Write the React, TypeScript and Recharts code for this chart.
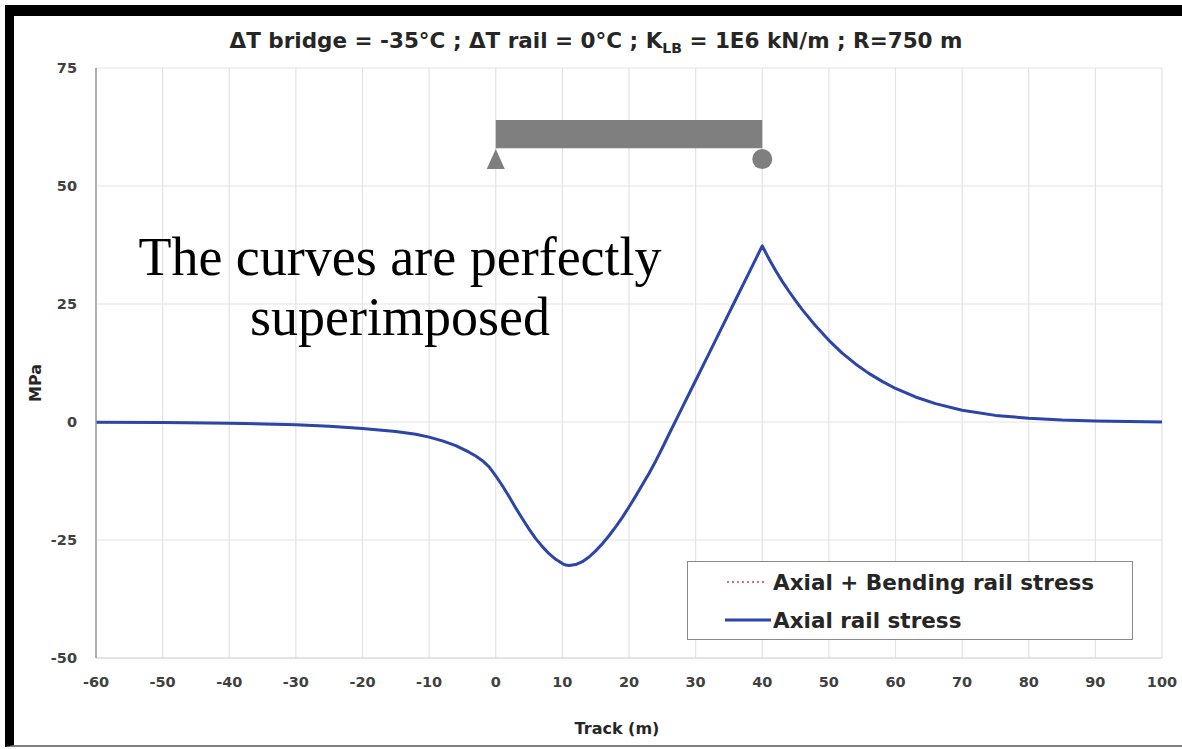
import React from "react";
import {
  LineChart,
  Line,
  XAxis,
  YAxis,
  CartesianGrid,
  Legend,
  ReferenceArea,
  ReferenceDot,
} from "recharts";

// track position (m)
const track = [
  -60, -50, -40, -30, -25, -20, -15, -12, -10, -8, -6, -5, -4, -3, -2, -1, 0, 1,
  2, 3, 4, 5, 6, 7, 8, 9, 10, 10.5, 11, 12, 13, 14, 15, 16, 17, 18, 19, 20, 21,
  22, 23, 24, 25, 26, 28, 30, 32, 34, 36, 38, 40, 41, 42, 43, 44, 45, 46, 48,
  50, 52, 54, 56, 58, 60, 63, 66, 70, 75, 80, 85, 90, 95, 100,
];

// rail stress (MPa)
const axialStress = [
  -0.05, -0.1, -0.25, -0.6, -0.9, -1.4, -2.0, -2.6, -3.2, -4.0, -5.0, -5.7,
  -6.4, -7.2, -8.2, -9.5, -11.4, -13.5, -15.8, -18.2, -20.5, -22.7, -24.7,
  -26.4, -27.9, -29.1, -30.0, -30.3, -30.4, -30.2, -29.6, -28.6, -27.3, -25.8,
  -24.1, -22.2, -20.2, -18.0, -15.7, -13.3, -10.9, -8.3, -5.5, -2.6, 3.1, 8.8,
  14.5, 20.2, 25.9, 31.6, 37.3, 34.6, 32.1, 29.8, 27.7, 25.7, 23.8, 20.4, 17.3,
  14.6, 12.3, 10.3, 8.6, 7.1, 5.3, 3.9, 2.5, 1.4, 0.8, 0.4, 0.2, 0.1, 0.0,
];

const axialBendingStress = [
  -0.05, -0.1, -0.25, -0.6, -0.9, -1.4, -2.0, -2.6, -3.2, -4.0, -5.0, -5.7,
  -6.4, -7.2, -8.2, -9.5, -11.4, -13.5, -15.8, -18.2, -20.5, -22.7, -24.7,
  -26.4, -27.9, -29.1, -30.0, -30.3, -30.4, -30.2, -29.6, -28.6, -27.3, -25.8,
  -24.1, -22.2, -20.2, -18.0, -15.7, -13.3, -10.9, -8.3, -5.5, -2.6, 3.1, 8.8,
  14.5, 20.2, 25.9, 31.6, 37.3, 34.6, 32.1, 29.8, 27.7, 25.7, 23.8, 20.4, 17.3,
  14.6, 12.3, 10.3, 8.6, 7.1, 5.3, 3.9, 2.5, 1.4, 0.8, 0.4, 0.2, 0.1, 0.0,
];

const xTicks = [-60, -50, -40, -30, -20, -10, 0, 10, 20, 30, 40, 50, 60, 70, 80, 90, 100];
const yTicks = [-50, -25, 0, 25, 50, 75];

// bridge sketch, in chart units
const bridgeStart = 0;
const bridgeEnd = 40;
const deckBottom = 58;
const deckTop = 64;
const supportLevel = 55.7;

const data = track.map((x, i) => ({
  x,
  bending: axialBendingStress[i],
  axial: axialStress[i],
}));

const sans = "'DejaVu Sans', sans-serif";
const grey = "#7f7f7f";

const Triangle = (props: any) => {
  const { cx, cy } = props;
  return (
    <polygon
      points={`${cx},${cy - 10} ${cx - 9},${cy + 10} ${cx + 9},${cy + 10}`}
      fill={grey}
    />
  );
};

function StressLegend() {
  const row = { display: "flex", alignItems: "center", height: 38 };
  return (
    <div
      style={{
        width: 446,
        height: 79,
        boxSizing: "border-box",
        border: "1.5px solid #8a8a8a",
        background: "#fff",
        fontFamily: sans,
        fontWeight: 700,
        fontSize: 21.5,
        color: "#262626",
        paddingLeft: 37,
        paddingTop: 1,
      }}
    >
      <div style={row}>
        <svg width={48} height={10}>
          <line x1={2} y1={5} x2={42} y2={5} stroke="#e8677a" strokeWidth={2} strokeDasharray="2 3" />
        </svg>
        <span>Axial + Bending rail stress</span>
      </div>
      <div style={row}>
        <svg width={48} height={10}>
          <line x1={0} y1={5} x2={46} y2={5} stroke="#2b45a8" strokeWidth={3} />
        </svg>
        <span>Axial rail stress</span>
      </div>
    </div>
  );
}

export default function App() {
  return (
    <div
      style={{
        position: "absolute",
        left: 0,
        top: 0,
        width: 1182,
        height: 749,
        background: "#fff",
        overflow: "hidden",
      }}
    >
      <div
        style={{
          position: "absolute",
          left: 5,
          top: 5,
          width: 1190,
          height: 742,
          boxSizing: "border-box",
          borderLeft: "9px solid #000",
          borderTop: "11px solid #000",
          borderBottom: "2px solid #808080",
        }}
      />
      <LineChart
        width={1182}
        height={749}
        data={data}
        margin={{ top: 68, right: 20, left: 36, bottom: 11 }}
        style={{ position: "absolute", left: 0, top: 0 }}
      >
        <CartesianGrid stroke="#e3e3e3" strokeWidth={1.2} />
        <XAxis
          type="number"
          dataKey="x"
          domain={[-60, 100]}
          ticks={xTicks}
          height={80}
          tickLine={false}
          tickMargin={13}
          axisLine={{ stroke: "#d6d6d6" }}
          tick={{ fontSize: 14.5, fontWeight: 700, fill: "#404040", fontFamily: sans }}
        />
        <YAxis
          type="number"
          domain={[-50, 75]}
          ticks={yTicks}
          width={60}
          tickLine={false}
          tickMargin={13}
          axisLine={{ stroke: "#9a9a9a", strokeWidth: 1.5 }}
          tick={{ fontSize: 14.5, fontWeight: 700, fill: "#404040", fontFamily: sans }}
        />
        <ReferenceArea
          x1={bridgeStart}
          x2={bridgeEnd}
          y1={deckBottom}
          y2={deckTop}
          fill={grey}
          fillOpacity={1}
          stroke="none"
        />
        <ReferenceDot x={bridgeStart} y={supportLevel} shape={Triangle} />
        <ReferenceDot x={bridgeEnd} y={supportLevel} r={10} fill={grey} stroke="none" />
        <Legend
          layout="vertical"
          align="center"
          verticalAlign="middle"
          content={() => <StressLegend />}
          wrapperStyle={{ left: 687, top: 561, width: 446, height: 79 }}
        />
        <Line
          type="linear"
          dataKey="bending"
          name="Axial + Bending rail stress"
          stroke="#e8677a"
          strokeWidth={2}
          strokeDasharray="2 3"
          dot={false}
          isAnimationActive={false}
        />
        <Line
          type="linear"
          dataKey="axial"
          name="Axial rail stress"
          stroke="#2b45a8"
          strokeWidth={3}
          strokeLinejoin="round"
          dot={false}
          isAnimationActive={false}
        />
      </LineChart>
      <svg
        width={1182}
        height={749}
        style={{ position: "absolute", left: 0, top: 0, pointerEvents: "none" }}
      >
        <text
          x={596}
          y={48}
          textAnchor="middle"
          fontFamily={sans}
          fontWeight={700}
          fontSize={21.5}
          fill="#262626"
        >
          ΔT bridge = -35°C ; ΔT rail = 0°C ; K
          <tspan fontSize={14} dy={5}>LB</tspan>
          <tspan dy={-5}> = 1E6 kN/m ; R=750 m</tspan>
        </text>
        <text
          x={400}
          y={275}
          textAnchor="middle"
          fontFamily="'Liberation Serif', serif"
          fontSize={54}
          fill="#000"
        >
          <tspan x={400}>The curves are perfectly</tspan>
          <tspan x={400} dy={60}>superimposed</tspan>
        </text>
        <text
          x={0}
          y={0}
          transform="translate(41 383) rotate(-90)"
          textAnchor="middle"
          fontFamily={sans}
          fontWeight={700}
          fontSize={16}
          fill="#262626"
        >
          MPa
        </text>
        <text
          x={617}
          y={734}
          textAnchor="middle"
          fontFamily={sans}
          fontWeight={700}
          fontSize={16}
          fill="#262626"
        >
          Track (m)
        </text>
      </svg>
    </div>
  );
}
